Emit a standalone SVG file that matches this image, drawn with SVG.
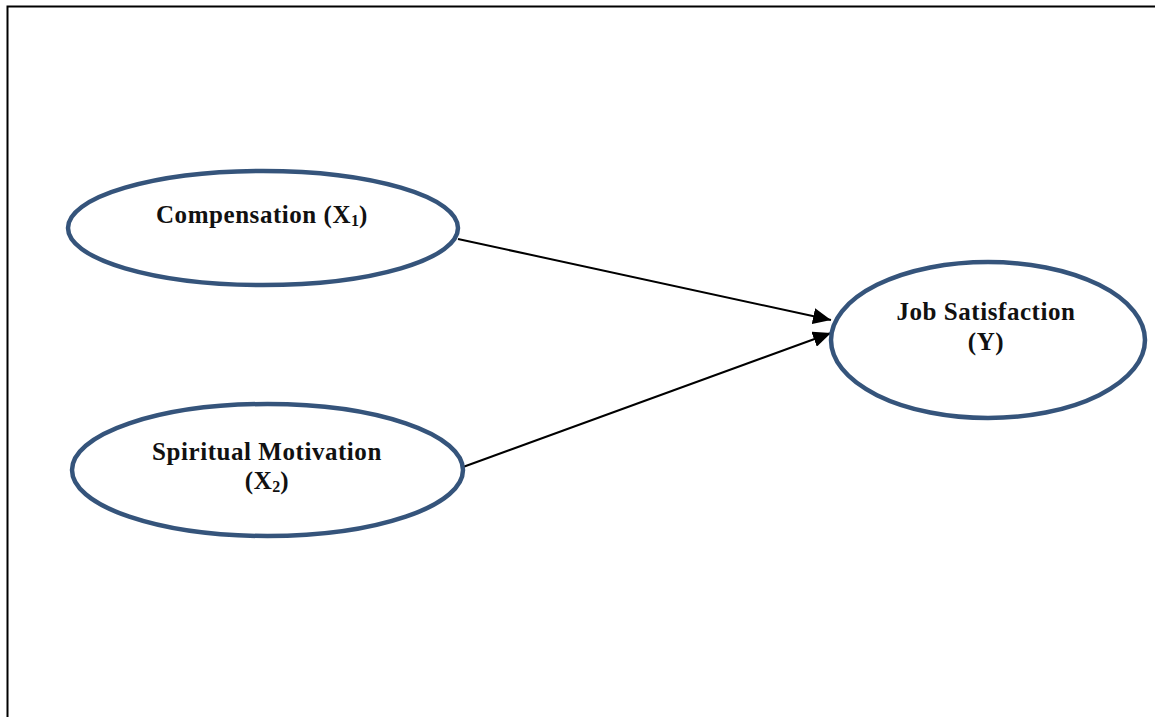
<svg xmlns="http://www.w3.org/2000/svg" width="1155" height="717" viewBox="0 0 1155 717">
<style>
.node{fill:#fff;stroke:#35547b;stroke-width:4.5}
.lbl{font-family:"Liberation Serif","Times New Roman",serif;font-weight:bold;font-size:25px;letter-spacing:0.55px;fill:#111;text-anchor:middle}
.sub{font-size:16px;letter-spacing:0}
.edge{stroke:#000;stroke-width:2;fill:none}
</style>
<defs>
<marker id="arrow" viewBox="0 0 12 12" refX="12" refY="6" markerWidth="18" markerHeight="16" markerUnits="userSpaceOnUse" orient="auto" preserveAspectRatio="none">
<path d="M0,0 L12,6 L0,12 z" fill="#000"/>
</marker>
</defs>
<rect x="0" y="0" width="1155" height="717" fill="#fff"/>
<path d="M7.5,720 V6.5 H1160" fill="none" stroke="#000" stroke-width="2"/>
<g id="connectors">
<line class="edge" x1="458" y1="239" x2="831" y2="320" marker-end="url(#arrow)"/>
<line class="edge" x1="463" y1="467" x2="831" y2="333" marker-end="url(#arrow)"/>
</g>
<g id="node-compensation">
<ellipse class="node" cx="263" cy="228" rx="195" ry="57"/>
<text class="lbl" x="262" y="223">Compensation (X<tspan class="sub" dy="3">1</tspan><tspan dy="-3">)</tspan></text>
</g>
<g id="node-spiritual">
<ellipse class="node" cx="267.5" cy="470" rx="195.5" ry="66"/>
<text class="lbl" x="267" y="460">Spiritual Motivation</text>
<text class="lbl" x="267" y="489">(X<tspan class="sub" dy="3">2</tspan><tspan dy="-3">)</tspan></text>
</g>
<g id="node-job">
<ellipse class="node" cx="988" cy="340" rx="157" ry="78"/>
<text class="lbl" x="986" y="320">Job Satisfaction</text>
<text class="lbl" x="986" y="350">(Y)</text>
</g>
</svg>
